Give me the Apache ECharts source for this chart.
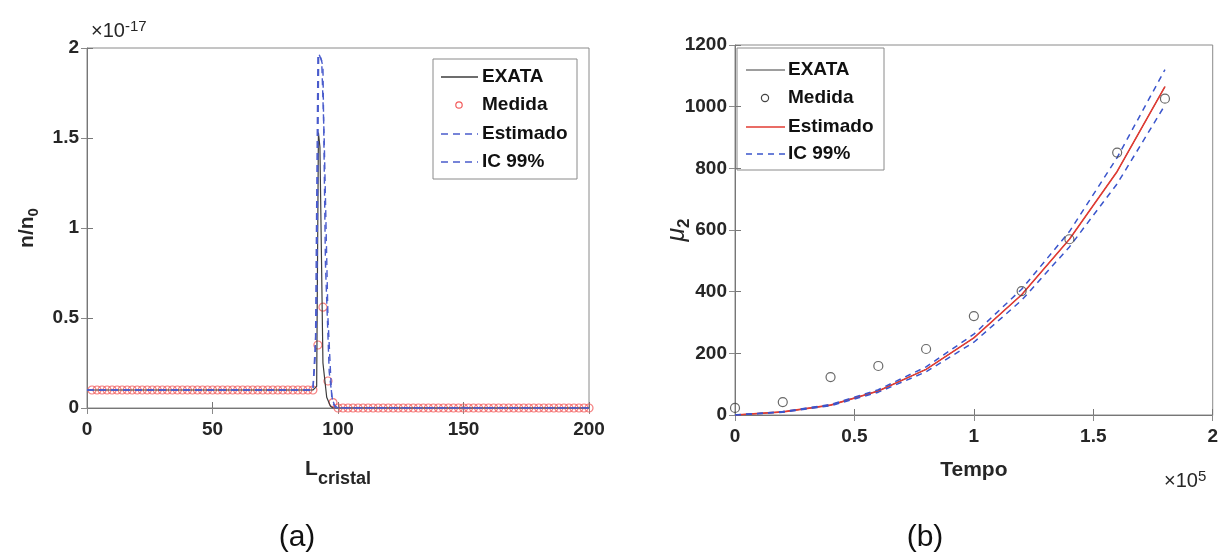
<!DOCTYPE html>
<html>
<head>
<meta charset="utf-8">
<script src="https://cdn.jsdelivr.net/npm/echarts@6/dist/echarts.min.js"></script>
<style>
  html, body { margin: 0; padding: 0; background: #fff; }
  #chart { width: 1221px; height: 555px; }
</style>
</head>
<body>
<div id="chart"></div>
<script>
// ---- Panel (a): n/n0 along crystal size (values in units of 1e-17) ----
const L_MEAS = Array.from({ length: 100 }, (_, i) => 2 + 2 * i); // measurement grid, L = 2..200
const N_MEAS = [
  0.1, 0.1, 0.1, 0.1, 0.1, 0.1, 0.1, 0.1, 0.1, 0.1,
  0.1, 0.1, 0.1, 0.1, 0.1, 0.1, 0.1, 0.1, 0.1, 0.1,
  0.1, 0.1, 0.1, 0.1, 0.1, 0.1, 0.1, 0.1, 0.1, 0.1,
  0.1, 0.1, 0.1, 0.1, 0.1, 0.1, 0.1, 0.1, 0.1, 0.1,
  0.1, 0.1, 0.1, 0.1, 0.1,
  0.35, 0.56, 0.15, 0.03,
  0, 0, 0, 0, 0, 0, 0, 0, 0, 0,
  0, 0, 0, 0, 0, 0, 0, 0, 0, 0,
  0, 0, 0, 0, 0, 0, 0, 0, 0, 0,
  0, 0, 0, 0, 0, 0, 0, 0, 0, 0,
  0, 0, 0, 0, 0, 0, 0, 0, 0, 0,
  0
];
const EXACT_A = [[0, 0.1], [90, 0.1], [91.5, 0.12], [92.2, 1.53], [92.8, 1.45], [94, 0.25], [95.5, 0.06], [97, 0.01], [98, 0], [200, 0]];
const EST_A   = [[0, 0.1], [90, 0.1], [91, 0.3], [92, 1.96], [93, 1.95], [94, 1.9], [95, 0.8], [96.5, 0.2], [98, 0.02], [100, 0], [200, 0]];
const IC_A    = [[0, 0.1], [90, 0.1], [91.5, 0.5], [92.3, 1.97], [93.5, 1.93], [94.5, 1.5], [96, 0.5], [97.5, 0.06], [99, 0], [200, 0]];

// ---- Panel (b): second moment mu2 over time (time in units of 1e5) ----
const TIME      = [0, 0.2, 0.4, 0.6, 0.8, 1.0, 1.2, 1.4, 1.6, 1.8];
const MU2_MEAS  = [23, 42, 123, 159, 214, 321, 402, 570, 851, 1026];
const MU2_EXACT = [0, 10, 32, 78, 148, 250, 390, 570, 790, 1065];
const MU2_EST   = [0, 10, 32, 78, 148, 250, 390, 570, 790, 1065];
const MU2_UP    = [0, 11, 34, 82, 156, 262, 408, 595, 835, 1120];
const MU2_LOW   = [0, 9, 30, 74, 140, 236, 372, 545, 750, 1005];

const pair = (xs, ys) => xs.map((x, i) => [x, ys[i]]);

const INK = '#262626';
const BOX = '#8a8a8a';
const FONT = '"Liberation Sans", Arial, sans-serif';
const plain = v => String(v);
const tickLabel = { color: INK, fontFamily: FONT, fontWeight: 'bold', fontSize: 19 };

function bottomAxis(grid, min, max, interval, name, nameGap, nameRich) {
  return {
    type: 'value', gridIndex: grid, position: 'bottom', min, max, interval,
    axisLine: { show: true, lineStyle: { color: '#777', width: 1 } },
    axisTick: { show: true, inside: true, length: 6, lineStyle: { color: '#777' } },
    axisLabel: Object.assign({ margin: 12, formatter: plain }, tickLabel),
    splitLine: { show: false },
    name, nameLocation: 'middle', nameGap,
    nameTextStyle: Object.assign({}, tickLabel, { fontSize: 21, rich: nameRich || {} })
  };
}
function topAxis(grid, min, max, interval) {
  return {
    type: 'value', gridIndex: grid, position: 'top', min, max, interval,
    axisLine: { show: false },
    axisTick: { show: true, inside: true, length: 6, lineStyle: { color: BOX } },
    axisLabel: { show: false }, splitLine: { show: false }
  };
}
function leftAxis(grid, min, max, interval, name, nameGap, nameRich) {
  return {
    type: 'value', gridIndex: grid, position: 'left', min, max, interval,
    axisLine: { show: true, lineStyle: { color: '#777', width: 1 } },
    axisTick: { show: true, inside: true, length: 6, lineStyle: { color: '#777' } },
    axisLabel: Object.assign({ margin: 8, formatter: plain }, tickLabel),
    splitLine: { show: false },
    name, nameLocation: 'middle', nameGap, nameRotate: 90,
    nameTextStyle: Object.assign({}, tickLabel, { fontSize: 21, rich: nameRich || {} })
  };
}
function rightAxis(grid, min, max, interval) {
  return {
    type: 'value', gridIndex: grid, position: 'right', min, max, interval,
    axisLine: { show: false },
    axisTick: { show: true, inside: true, length: 6, lineStyle: { color: BOX } },
    axisLabel: { show: false }, splitLine: { show: false }
  };
}

// Legend drawn as a boxed group: line / marker sample followed by a label
function legendBox(x, y, w, h, rows) {
  const children = [{
    type: 'rect', shape: { x: 0, y: 0, width: w, height: h },
    style: { fill: '#fff', stroke: BOX, lineWidth: 1 }
  }];
  rows.forEach(r => {
    if (r.kind === 'line') {
      children.push({
        type: 'line', shape: { x1: r.x1, y1: r.y, x2: r.x2, y2: r.y },
        style: { stroke: r.color, lineWidth: r.width, lineDash: r.dash || null }
      });
    } else {
      children.push({
        type: 'circle', shape: { cx: r.cx, cy: r.y, r: r.r },
        style: { fill: 'none', stroke: r.color, lineWidth: 1.2 }
      });
    }
    children.push({
      type: 'text', x: r.tx, y: r.y,
      style: { text: r.text, fill: '#111', font: 'bold 19px ' + FONT, verticalAlign: 'middle', align: 'left' }
    });
  });
  return { type: 'group', x, y, z: 100, children };
}

const BLUE_A = '#4a5ccc';
const BLUE_B = '#3a55cc';
const RED_A = '#f25c5c';
const RED_B = '#e23b32';

const muAxis = leftAxis(1, 0, 1200, 200, '{mu|μ}{sub|2}', 42, {
  mu: { fontFamily: FONT, fontStyle: 'italic', fontWeight: 'normal', fontSize: 25, color: INK },
  sub: { fontFamily: FONT, fontWeight: 'bold', fontSize: 17, color: INK, padding: [14, 0, 0, 0] }
});
muAxis.nameMoveOverlap = false;

const option = {
  animation: false,
  backgroundColor: '#fff',
  grid: [
    { left: 87, top: 48, width: 502, height: 360, show: true, borderColor: BOX, borderWidth: 1, backgroundColor: 'transparent' },
    { left: 735, top: 45, width: 478, height: 370, show: true, borderColor: BOX, borderWidth: 1, backgroundColor: 'transparent' }
  ],
  xAxis: [
    bottomAxis(0, 0, 200, 50, 'L{sub|cristal}', 42, {
      sub: { fontFamily: FONT, fontWeight: 'bold', fontSize: 18, color: INK, verticalAlign: 'bottom', padding: [20, 0, 0, 0] }
    }),
    topAxis(0, 0, 200, 50),
    bottomAxis(1, 0, 2, 0.5, 'Tempo', 45),
    topAxis(1, 0, 2, 0.5)
  ],
  yAxis: [
    leftAxis(0, 0, 2, 0.5, 'n/n{sub|0}', 46, {
      sub: { fontFamily: FONT, fontWeight: 'bold', fontSize: 15, color: INK, padding: [12, 0, 0, 0] }
    }),
    rightAxis(0, 0, 2, 0.5),
    muAxis,
    rightAxis(1, 0, 1200, 200)
  ],
  series: [
    // panel (a)
    { name: 'EXATA', type: 'line', xAxisIndex: 0, yAxisIndex: 0, data: EXACT_A, symbol: 'none',
      lineStyle: { color: '#3c3c3c', width: 1.2 }, z: 3 },
    { name: 'Medida', type: 'scatter', xAxisIndex: 0, yAxisIndex: 0, data: pair(L_MEAS, N_MEAS), clip: false,
      symbol: 'circle', symbolSize: 8, itemStyle: { color: 'transparent', borderColor: RED_A, borderWidth: 1.2 }, z: 2 },
    { name: 'Estimado', type: 'line', xAxisIndex: 0, yAxisIndex: 0, data: EST_A, symbol: 'none',
      lineStyle: { color: BLUE_A, width: 1.4, type: [7, 5] }, z: 4 },
    { name: 'IC 99%', type: 'line', xAxisIndex: 0, yAxisIndex: 0, data: IC_A, symbol: 'none',
      lineStyle: { color: BLUE_A, width: 1.4, type: [7, 5] }, z: 4 },
    // panel (b)
    { name: 'EXATA', type: 'line', xAxisIndex: 2, yAxisIndex: 2, data: pair(TIME, MU2_EXACT), symbol: 'none',
      lineStyle: { color: '#3c3c3c', width: 1 }, z: 2 },
    { name: 'Medida', type: 'scatter', xAxisIndex: 2, yAxisIndex: 2, data: pair(TIME, MU2_MEAS), clip: false,
      symbol: 'circle', symbolSize: 9, itemStyle: { color: 'transparent', borderColor: '#444', borderWidth: 1.2 }, z: 5 },
    { name: 'Estimado', type: 'line', xAxisIndex: 2, yAxisIndex: 2, data: pair(TIME, MU2_EST), symbol: 'none',
      lineStyle: { color: RED_B, width: 1.6 }, z: 3 },
    { name: 'IC 99% sup', type: 'line', xAxisIndex: 2, yAxisIndex: 2, data: pair(TIME, MU2_UP), symbol: 'none',
      lineStyle: { color: BLUE_B, width: 1.5, type: [6, 5] }, z: 4 },
    { name: 'IC 99% inf', type: 'line', xAxisIndex: 2, yAxisIndex: 2, data: pair(TIME, MU2_LOW), symbol: 'none',
      lineStyle: { color: BLUE_B, width: 1.5, type: [6, 5] }, z: 4 }
  ],
  graphic: [
    // axis exponent labels
    { type: 'text', x: 91, y: 44, style: { text: '×10{sup|-17}', font: '20px ' + FONT, fill: INK, verticalAlign: 'bottom',
      rich: { sup: { font: '15px ' + FONT, fill: INK, padding: [0, 0, 10, 0] } } } },
    { type: 'text', x: 1164, y: 494, style: { text: '×10{sup|5}', font: '20px ' + FONT, fill: INK, verticalAlign: 'bottom',
      rich: { sup: { font: '15px ' + FONT, fill: INK, padding: [0, 0, 10, 0] } } } },
    // panel captions
    { type: 'text', x: 297, y: 538, style: { text: '(a)', font: '30px ' + FONT, fill: '#111', align: 'center', verticalAlign: 'middle' } },
    { type: 'text', x: 925, y: 538, style: { text: '(b)', font: '30px ' + FONT, fill: '#111', align: 'center', verticalAlign: 'middle' } },
    legendBox(433, 59, 144, 120, [
      { kind: 'line', x1: 8, x2: 45, y: 18, color: '#3c3c3c', width: 1.4, text: 'EXATA', tx: 49 },
      { kind: 'circle', cx: 26, r: 3.2, y: 46, color: RED_A, text: 'Medida', tx: 49 },
      { kind: 'line', x1: 8, x2: 45, y: 75, color: BLUE_A, width: 1.3, dash: [7, 5], text: 'Estimado', tx: 49 },
      { kind: 'line', x1: 8, x2: 45, y: 103, color: BLUE_A, width: 1.3, dash: [7, 5], text: 'IC 99%', tx: 49 }
    ]),
    legendBox(737, 48, 147, 122, [
      { kind: 'line', x1: 9, x2: 48, y: 22, color: '#3c3c3c', width: 1, text: 'EXATA', tx: 51 },
      { kind: 'circle', cx: 28, r: 3.6, y: 50, color: '#444', text: 'Medida', tx: 51 },
      { kind: 'line', x1: 9, x2: 48, y: 79, color: RED_B, width: 1.6, text: 'Estimado', tx: 51 },
      { kind: 'line', x1: 9, x2: 48, y: 106, color: BLUE_B, width: 1.5, dash: [6, 5], text: 'IC 99%', tx: 51 }
    ])
  ]
};

const chart = echarts.init(document.getElementById('chart'), null, { renderer: 'canvas' });
chart.setOption(option);
</script>
</body>
</html>
